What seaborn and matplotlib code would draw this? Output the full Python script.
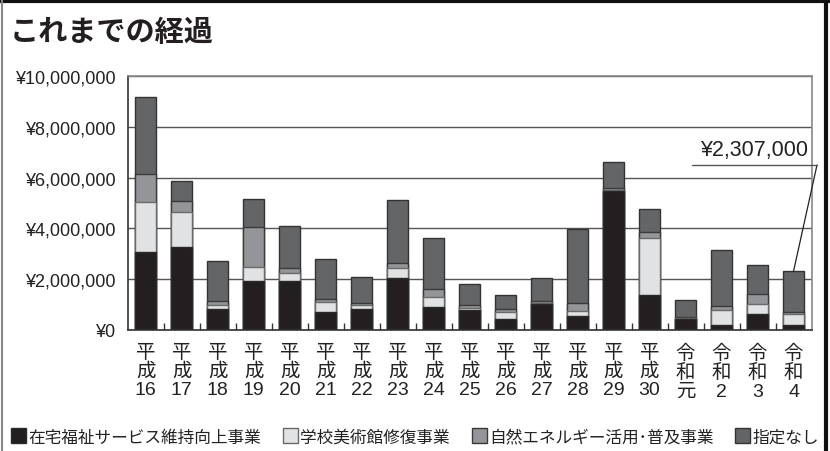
import matplotlib
matplotlib.use("Agg")
import matplotlib.pyplot as plt
import seaborn as sns
import numpy as np
from matplotlib.patches import Patch
from matplotlib.lines import Line2D

# ---- data (yen) ----
categories = ["平\n成\n16", "平\n成\n17", "平\n成\n18", "平\n成\n19", "平\n成\n20",
              "平\n成\n21", "平\n成\n22", "平\n成\n23", "平\n成\n24", "平\n成\n25",
              "平\n成\n26", "平\n成\n27", "平\n成\n28", "平\n成\n29", "平\n成\n30",
              "令\n和\n元", "令\n和\n2", "令\n和\n3", "令\n和\n4"]
welfare = [3090000, 3270000, 840000, 1910000, 1940000, 720000, 840000, 2040000, 890000, 800000,
           420000, 1010000, 550000, 5460000, 1390000, 430000, 210000, 640000, 200000]
museum = [1930000, 1380000, 150000, 580000, 310000, 370000, 130000, 410000, 390000, 80000,
          270000, 50000, 190000, 50000, 2220000, 30000, 580000, 390000, 420000]
energy = [1110000, 430000, 140000, 1570000, 210000, 120000, 80000, 170000, 330000, 90000,
          120000, 100000, 310000, 100000, 250000, 70000, 160000, 370000, 80000]
unspecified = [3050000, 790000, 1590000, 1090000, 1630000, 1590000, 1040000, 2480000, 2030000, 850000,
               580000, 870000, 2920000, 1000000, 920000, 660000, 2180000, 1140000, 1607000]
series_names = ["在宅福祉サービス維持向上事業", "学校美術館修復事業", "自然エネルギー活用･普及事業", "指定なし"]
y_ticks = [0, 2000000, 4000000, 6000000, 8000000, 10000000]
title = "これまでの経過"
annot_label = "¥2,307,000"

colors = ["#231f20", "#e1e2e4", "#939598", "#646567"]
edges = ["#2a2a2a", "#6a6a6a", "#3a3a3a", "#333333"]

sns.set_theme(style="white")
plt.rcParams['font.family'] = ['Noto Sans CJK JP', 'DejaVu Sans']

fig = plt.figure(figsize=(8.3, 4.52), dpi=100)
ax = fig.add_axes([127.7 / 830, 1 - 331 / 452, (811.5 - 127.7) / 830, (331 - 77) / 452])

layers = [welfare, museum, energy, unspecified]
cum = np.cumsum(np.array(layers), axis=0)
# draw from the top layer down so lower layers overlay
for i in range(3, -1, -1):
    sns.barplot(x=categories, y=cum[i], color=colors[i], width=0.58, edgecolor=edges[i],
                linewidth=1.0, saturation=1, ax=ax, order=categories)

ax.set_ylim(0, 10000000)
ax.set_xlim(-0.5, len(categories) - 0.5)
ax.set_yticks(y_ticks)
ax.set_yticklabels([f"¥{v:,.0f}" for v in y_ticks],
                   family=['Liberation Sans', 'DejaVu Sans'], fontsize=13, color="#222")
ax.yaxis.grid(True, color="#555555", lw=1.0)
ax.set_axisbelow(True)
ax.tick_params(axis='y', length=0, pad=9)
ax.set_xticks(range(len(categories)))
ax.set_xticklabels(categories, fontsize=14, color="#222", linespacing=1.1,
                   family=['Liberation Sans', 'Noto Sans CJK JP', 'DejaVu Sans'])
ax.tick_params(axis='x', which='major', length=0, pad=10)
ax.set_xticks(np.arange(len(categories) - 1) + 0.5, minor=True)
ax.tick_params(axis='x', which='minor', direction='in', length=5, width=1, color="#333", bottom=True)
ax.set_xlabel("")
ax.set_ylabel("")
for s in ["left", "bottom"]:
    ax.spines[s].set_color("#333")
    ax.spines[s].set_linewidth(1.2)
for s in ["top", "right"]:
    ax.spines[s].set_color("#888")
    ax.spines[s].set_linewidth(1.2)

# annotation for last bar
total_last = cum[3][-1]
ax.annotate("", xy=(len(categories) - 1, total_last), xycoords='data',
            xytext=(817, 452 - 166), textcoords='figure pixels',
            arrowprops=dict(arrowstyle='-', lw=0.9, color="#222", shrinkA=0, shrinkB=0))
fig.add_artist(Line2D([692 / 830, 817 / 830], [1 - 166 / 452, 1 - 166 / 452],
                      transform=fig.transFigure, color="#555", lw=1.0))
fig.text(808 / 830, 1 - 161 / 452, annot_label, ha='right', va='bottom',
         family=['Liberation Sans', 'DejaVu Sans'], fontsize=15.5, color="#222")

# title
fig.text(10 / 830, 1 - 32 / 452, title, ha='left', va='center', fontsize=21, fontweight='bold', color="#231f20")

# legend
handles = [Patch(facecolor=colors[i], edgecolor=edges[i], lw=1.0) for i in range(4)]
fig.legend(handles, series_names, loc='center', bbox_to_anchor=(0.5, 1 - 438 / 452), ncol=4,
           frameon=False, fontsize=12, handlelength=0.9, handleheight=1.0, handletextpad=0.15,
           columnspacing=1.3, borderaxespad=0, labelcolor="#222")

# outer frame
fig.add_artist(Line2D([0, 1], [1 - 1.5 / 452, 1 - 1.5 / 452], transform=fig.transFigure, color="#111", lw=3))
fig.add_artist(Line2D([826 / 830, 826 / 830], [0, 1], transform=fig.transFigure, color="#111", lw=3))
fig.add_artist(Line2D([2 / 830, 2 / 830], [0, 1], transform=fig.transFigure, color="#888", lw=1.5))

fig.savefig("out.png", dpi=100)
